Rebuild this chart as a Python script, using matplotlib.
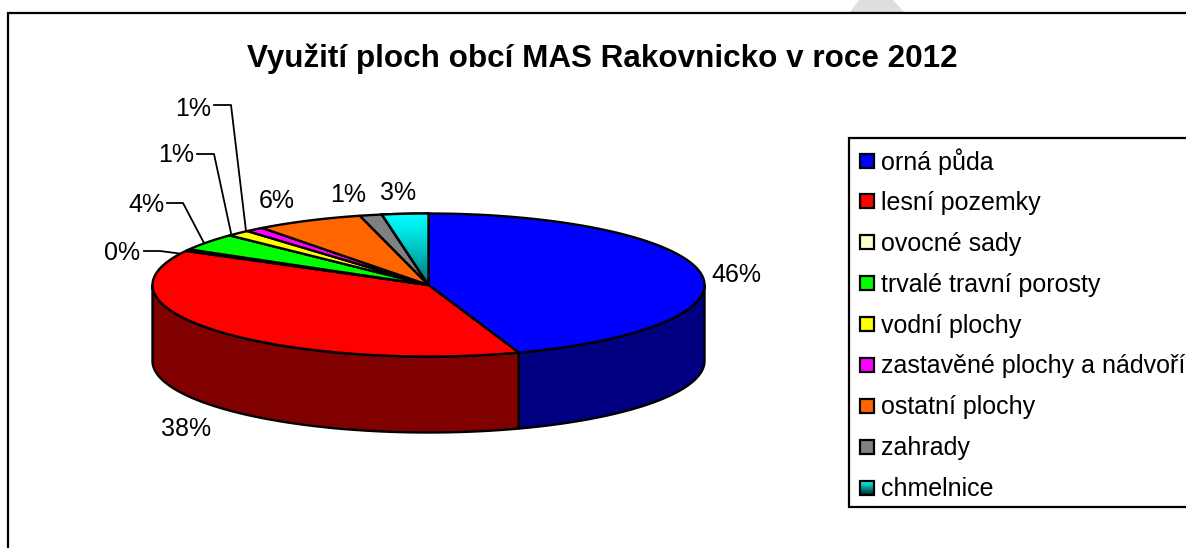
import numpy as np
import matplotlib
matplotlib.use("Agg")
import matplotlib.pyplot as plt
from matplotlib.patches import Rectangle, Polygon

plt.rcParams['font.family'] = ['Liberation Sans', 'DejaVu Sans']

title = "Využití ploch obcí MAS Rakovnicko v roce 2012"
categories = ["orná půda", "lesní pozemky", "ovocné sady", "trvalé travní porosty",
              "vodní plochy", "zastavěné plochy a nádvoří", "ostatní plochy",
              "zahrady", "chmelnice"]
values = [44.7, 38.2, 0.4, 3.9, 1.4, 1.1, 6.3, 1.3, 2.7]
pct_labels = ["46%", "38%", "0%", "4%", "1%", "1%", "6%", "1%", "3%"]
top_colors = ["#0000ff", "#ff0000", "#ffffcc", "#00ff00", "#ffff00",
              "#ff00ff", "#ff6600", "#808080", "#00ffff"]
side_colors = ["#000080", "#800000", "#808066", "#008000", "#808000",
               "#800080", "#803300", "#404040", "#008080"]

W, H = 1186, 548
fig = plt.figure(figsize=(W / 100, H / 100), dpi=100)

# Background layer in pixel coordinates
bg = fig.add_axes([0, 0, 1, 1])
bg.set_xlim(0, W); bg.set_ylim(H, 0); bg.axis("off")
bg.add_patch(Polygon([(850, 12), (904, 12), (893, 0), (859, 0)], closed=True,
                     facecolor="#dedede", edgecolor="none"))
bg.plot([8, 8, W + 5], [H + 5, 12.5, 12.5], color="black", lw=1.6, solid_joinstyle="miter")
bg.text(602, 58.5, title, ha="center", va="center", fontsize=22.6, fontweight="bold")

# Pie axes: unit circle maps to an ellipse, depth extends the lower limit
cx, cy, rx, ry, depth = 428.5, 285, 276, 71.5, 76
ax = fig.add_axes([(cx - rx) / W, 1 - (cy + ry + depth) / H, 2 * rx / W, (2 * ry + depth) / H])
d = depth / ry
ax.axis("off")
ax.patch.set_alpha(0)

edges = np.cumsum([0] + values) / sum(values) * 2 * np.pi  # clockwise from the top

# Sides (only the front half of the rim is visible)
for v0, v1, c in zip(edges[:-1], edges[1:], side_colors):
    a, b = max(v0, np.pi / 2), min(v1, 3 * np.pi / 2)
    if b <= a:
        continue
    t = np.linspace(a, b, 200)
    x, y = np.sin(t), np.cos(t)
    ax.add_patch(Polygon(np.r_[np.c_[x, y], np.c_[x[::-1], y[::-1] - d]], closed=True,
                         facecolor=c, edgecolor="black", lw=1.7, joinstyle="round", clip_on=False))

# Top faces
for i, (v0, v1, c) in enumerate(zip(edges[:-1], edges[1:], top_colors)):
    t = np.linspace(v0, v1, 200)
    pts = np.r_[[[0, 0]], np.c_[np.sin(t), np.cos(t)]]
    ax.add_patch(Polygon(pts, closed=True, facecolor=c, edgecolor="black", lw=1.7,
                         joinstyle="round", clip_on=False, zorder=3))
    if categories[i] == "chmelnice":
        grad = np.linspace(0, 1, 64)
        shade = 1 - 0.55 * grad ** 1.2
        rgb = np.c_[np.zeros(64), shade, shade][:, None, :]
        im = ax.imshow(rgb, extent=(-1, 0, 0, 1), aspect="auto", zorder=3.1, origin="upper")
        im.set_clip_path(Polygon(pts, closed=True, transform=ax.transData))
        ax.add_patch(Polygon(pts, closed=True, fill=False, edgecolor="black", lw=1.7,
                             zorder=3.2, clip_on=False))
ax.set_xlim(-1, 1)
ax.set_ylim(-1 - d, 1)

# Percentage labels and leader lines, pixel positions
label_pos = [(736, 274.5), (186, 428.5), (122, 252.5), (146, 204.5), (176, 155.5), (193, 108.5),
             (277, 200.5), (348, 195.5), (398, 193.5)]
leaders = {
    2: [(144, 251), (160, 251), (183, 254)],
    3: [(167, 203), (183, 203), (204, 243)],
    4: [(197, 154), (214, 154), (231, 233)],
    5: [(214, 105), (231, 105), (246, 231)],
}
for (x, y), s in zip(label_pos, pct_labels):
    bg.text(x, y, s, ha="center", va="center", fontsize=18)
for pts in leaders.values():
    px, py = zip(*pts)
    bg.plot(px, py, color="black", lw=1.3)
bg.set_zorder(0); ax.set_zorder(1)
top = fig.add_axes([0, 0, 1, 1], zorder=2)
top.axis("off"); top.patch.set_alpha(0)

# Legend
top.add_patch(Rectangle((849, 137.5), 400, 369.5, facecolor="white", edgecolor="black", lw=1.6))
lx, ly, step, s = 859.5, 160.5, 40.9, 14
for i, (name, c) in enumerate(zip(categories, top_colors)):
    y = ly + i * step
    top.text(881, y + 1.5, name, ha="left", va="center", fontsize=18)
    if name == "chmelnice":
        g = np.linspace(0, 1, 16)
        shade = 1 - 0.85 * g
        rgb = np.c_[np.zeros(16), shade, shade][:, None, :]
        top.imshow(rgb, extent=(lx, lx + s, y + s / 2, y - s / 2), aspect="auto", zorder=3)
        top.add_patch(Rectangle((lx, y - s / 2), s, s, fill=False, edgecolor="black", lw=1.6, zorder=4))
    else:
        top.add_patch(Rectangle((lx, y - s / 2), s, s, facecolor=c, edgecolor="black", lw=1.6, zorder=4))
top.set_xlim(0, W); top.set_ylim(H, 0)

fig.savefig("out.png", dpi=100)
